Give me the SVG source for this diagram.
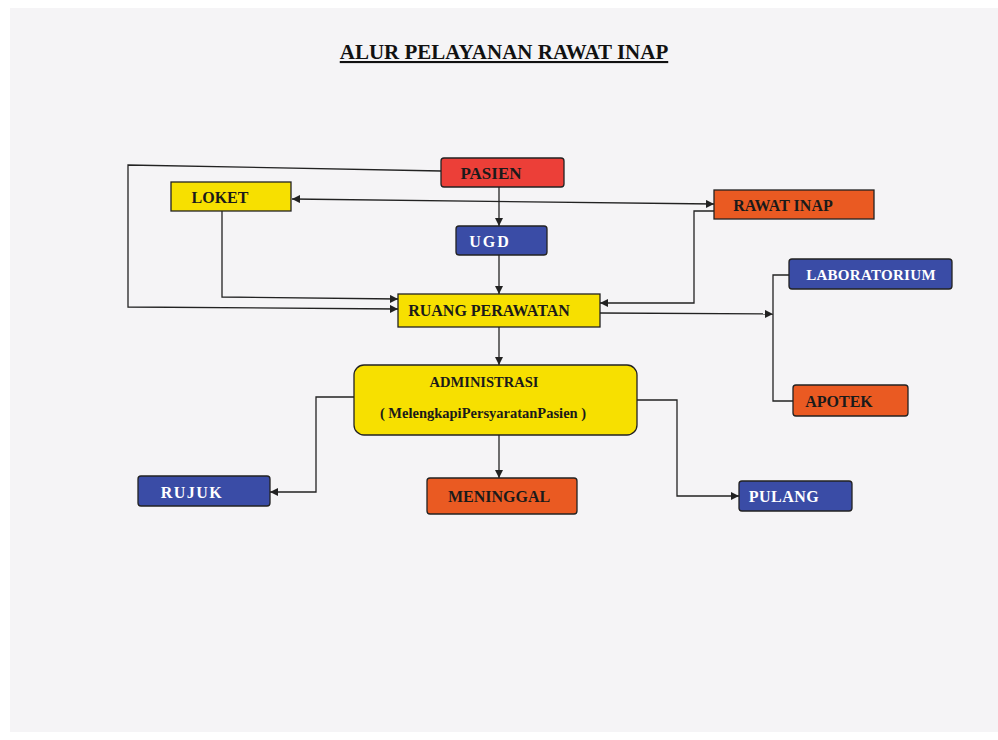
<svg xmlns="http://www.w3.org/2000/svg" width="998" height="740" viewBox="0 0 998 740">
<style>
.t{font-family:"Liberation Serif","Times New Roman",serif;font-weight:bold;font-size:16px;text-anchor:middle;dominant-baseline:central}
.d{fill:#1a1a1a}
.w{fill:#ffffff}
.box{stroke:#222;stroke-width:1.3}
.y{fill:#f7e000}
.r{fill:#ec3f38}
.o{fill:#ea5a22}
.b{fill:#3a4ca6}
.c{fill:none;stroke:#222;stroke-width:1.3}
</style>
<defs>
<marker id="a" viewBox="0 0 10 10" refX="10" refY="5" markerWidth="8" markerHeight="8" orient="auto" markerUnits="userSpaceOnUse">
<path d="M0,0 L10,5 L0,10 z" fill="#222"/>
</marker>
<marker id="s" viewBox="0 0 10 10" refX="0" refY="5" markerWidth="8" markerHeight="8" orient="auto" markerUnits="userSpaceOnUse">
<path d="M10,0 L0,5 L10,10 z" fill="#222"/>
</marker>
</defs>
<rect x="0" y="0" width="998" height="740" fill="#ffffff"/>
<rect x="10" y="8" width="988" height="724" fill="#f5f4f6"/>
<text x="504" y="59" style="font-family:'Liberation Serif','Times New Roman',serif;font-weight:bold;font-size:21px;text-anchor:middle;text-decoration:underline" fill="#111">ALUR PELAYANAN RAWAT INAP</text>

<g id="connectors">
<polyline class="c" points="441,171 128,165 128,307 398,309" marker-end="url(#a)"/>
<polyline class="c" points="222,211 222,297 398,299" marker-end="url(#a)"/>
<line class="c" x1="499" y1="187" x2="499" y2="226" marker-end="url(#a)"/>
<line class="c" x1="499" y1="255" x2="499" y2="294" marker-end="url(#a)"/>
<line class="c" x1="292" y1="199" x2="714" y2="204" marker-start="url(#s)" marker-end="url(#a)"/>
<polyline class="c" points="714,211 694,211 694,303 600,303" marker-end="url(#a)"/>
<line class="c" x1="600" y1="313" x2="773" y2="314" marker-end="url(#a)"/>
<polyline class="c" points="789,275 773,275 773,401 793,401"/>
<line class="c" x1="499" y1="327" x2="499" y2="365" marker-end="url(#a)"/>
<polyline class="c" points="354,397 316,397 316,492 270,492" marker-end="url(#a)"/>
<line class="c" x1="499" y1="435" x2="499" y2="478" marker-end="url(#a)"/>
<polyline class="c" points="637,400 677,400 677,496 739,496" marker-end="url(#a)"/>
</g>

<g id="pasien"><rect class="box r" x="441" y="158" width="123" height="29" rx="3"/><text class="t d" x="491" y="173" style="font-size:17px">PASIEN</text></g>
<g id="loket"><rect class="box y" x="171" y="182" width="120" height="29"/><text class="t d" x="220" y="197">LOKET</text></g>
<g id="ugd"><rect class="box b" x="456" y="226" width="91" height="29" rx="3"/><text class="t w" x="490" y="241" style="letter-spacing:2px">UGD</text></g>
<g id="rawat-inap"><rect class="box o" x="714" y="190" width="160" height="29"/><text class="t d" x="783" y="205">RAWAT INAP</text></g>
<g id="ruang-perawatan"><rect class="box y" x="398" y="294" width="202" height="33"/><text class="t d" x="489" y="310">RUANG PERAWATAN</text></g>
<g id="laboratorium"><rect class="box b" x="789" y="259" width="163" height="30" rx="3"/><text class="t w" x="871" y="275" style="font-size:15px;letter-spacing:0.3px">LABORATORIUM</text></g>
<g id="apotek"><rect class="box o" x="793" y="385" width="115" height="31" rx="3"/><text class="t d" x="839" y="401">APOTEK</text></g>
<g id="administrasi"><rect class="box y" x="354" y="365" width="283" height="70" rx="10"/><text class="t d" x="484" y="382" style="font-size:14.5px">ADMINISTRASI</text><text class="t d" x="483" y="413" style="font-size:14.5px">( MelengkapiPersyaratanPasien )</text></g>
<g id="rujuk"><rect class="box b" x="138" y="476" width="132" height="30" rx="3"/><text class="t w" x="192" y="492" style="letter-spacing:1.5px">RUJUK</text></g>
<g id="meninggal"><rect class="box o" x="427" y="478" width="150" height="36" rx="3"/><text class="t d" x="499" y="496">MENINGGAL</text></g>
<g id="pulang"><rect class="box b" x="739" y="481" width="113" height="30" rx="3"/><text class="t w" x="784" y="496" style="letter-spacing:0.5px">PULANG</text></g>
</svg>
